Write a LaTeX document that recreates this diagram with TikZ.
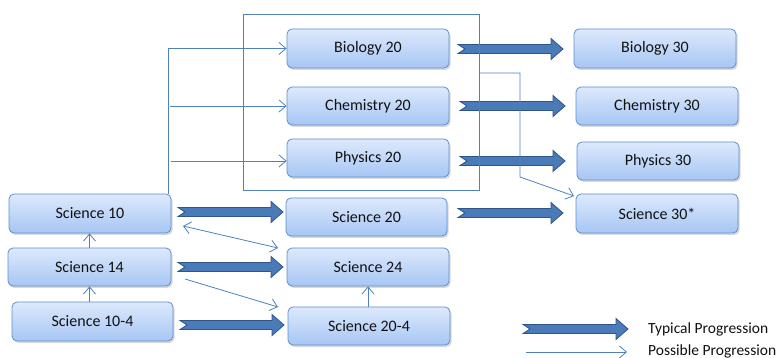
\documentclass[tikz,border=0pt]{standalone}
\usepackage{fontspec}
\setmainfont{Carlito}
\usetikzlibrary{arrows.meta,shadows}
\definecolor{boxtop}{HTML}{DDE9FC}
\definecolor{boxbot}{HTML}{A6C6F4}
\definecolor{boxline}{HTML}{5F8FCC}
\definecolor{thinline}{HTML}{4F81BD}
\definecolor{bigfill}{HTML}{4A7AB8}
\definecolor{bigline}{HTML}{2E5687}
\definecolor{txt}{HTML}{111111}
\newcommand{\bigarr}[3]{%
  \filldraw[bigarrow] (#1,#3-4.5) -- (#2-12,#3-4.5) -- (#2-12,#3-10.5) -- (#2,#3)
    -- (#2-12,#3+10.5) -- (#2-12,#3+4.5) -- (#1,#3+4.5) -- (#1+7,#3) -- cycle;}
\begin{document}
\begin{tikzpicture}[x=1pt,y=-1pt,
  box/.style={draw=boxline, line width=0.8pt, rounded corners=5pt,
    top color=boxtop, bottom color=boxbot, minimum height=38pt, inner sep=0pt,
    font=\fontsize{16}{18}\selectfont, text=txt,
    drop shadow={shadow xshift=1.5pt, shadow yshift=-2pt, opacity=0.3}},
  bigarrow/.style={fill=bigfill, draw=bigline, line width=0.8pt, line join=miter},
  thinln/.style={draw=thinline, line width=0.8pt},
  poss/.style={thinln, -{Straight Barb[length=7pt,width=12pt,line width=0.8pt]}},
  possboth/.style={thinln, {Straight Barb[length=7pt,width=12pt,line width=0.8pt]}-{Straight Barb[length=7pt,width=12pt,line width=0.8pt]}},
  legend/.style={anchor=west, inner sep=0pt, font=\fontsize{15.5}{17}\selectfont, text=txt}]
\useasboundingbox (0,0) rectangle (777,358);
% group rectangle (behind everything)
\draw[draw=thinline, line width=1pt] (243,15) -- (479,15) -- (479,191) -- (243,191) -- cycle;
% nodes
\node[box, minimum width=162pt, minimum height=39pt] (bio20) at (368,48.5) {Biology 20};
\node[box, minimum width=162pt] (chem20) at (368,106) {Chemistry 20};
\node[box, minimum width=162pt] (phys20) at (368,158) {Physics 20};
\node[box, minimum width=161pt] (sci20) at (366.5,217) {Science 20};
\node[box, minimum width=162pt] (sci24) at (368,267) {Science 24};
\node[box, minimum width=162pt] (sci204) at (369,326) {Science 20-4};
\node[box, minimum width=162pt, minimum height=39pt] (sci10) at (90,213.5) {Science 10};
\node[box, minimum width=163pt] (sci14) at (89.5,267) {Science 14};
\node[box, minimum width=161pt, minimum height=39pt] (sci104) at (92.5,321.5) {Science 10-4};
\node[box, minimum width=162pt, minimum height=39pt] (bio30) at (655,48.5) {Biology 30};
\node[box, minimum width=162pt] (chem30) at (657,106) {Chemistry 30};
\node[box, minimum width=162pt] (phys30) at (658,161) {Physics 30};
\node[box, minimum width=162pt, minimum height=39pt] (sci30) at (657,213.5) {Science 30*};
% typical progression arrows
\bigarr{458}{563}{49}
\bigarr{460}{565}{106}
\bigarr{460}{565}{161}
\bigarr{458}{563}{213}
\bigarr{178}{283}{212}
\bigarr{178}{283}{267}
\bigarr{180}{284}{325}
\bigarr{523}{628}{329}
% right side of group rectangle over the arrows
\draw[thinln] (479,15) -- (479,191);
% possible progression arrows
\coordinate (s10top) at (168,194);
\coordinate (cj) at (170,106);
\coordinate (pj) at (171,161);
\draw[poss] (s10top) |- (bio20.west);
\draw[poss] (cj) -- (chem20.west);
\draw[poss] (pj) -- (phys20.west |- pj);
\coordinate (g1) at (479,73);
\coordinate (g2) at (520,73);
\coordinate (g3) at (520,177);
\coordinate (s30in) at (574,196);
\draw[poss] (g1) -- (g2) -- (g3) -- (s30in);
\coordinate (a1) at (183,226);
\coordinate (a2) at (278,248);
\draw[possboth] (a1) -- (a2);
\coordinate (b1) at (185,279);
\coordinate (b2) at (278,307);
\draw[poss] (b1) -- (b2);
\draw[poss] (sci14.north) -- (sci14.north |- sci10.south);
\draw[poss] (sci104.north -| sci14.south) -- (sci14.south);
\draw[poss] (sci204.north -| sci24.south) -- (sci24.south);
% legend
\coordinate (l1) at (526,352);
\coordinate (l2) at (627,352);
\draw[poss] (l1) -- (l2);
\node[legend] (lt) at (648,329) {Typical Progression};
\node[legend] (lp) at (648,351) {Possible Progression};
\end{tikzpicture}
\end{document}
